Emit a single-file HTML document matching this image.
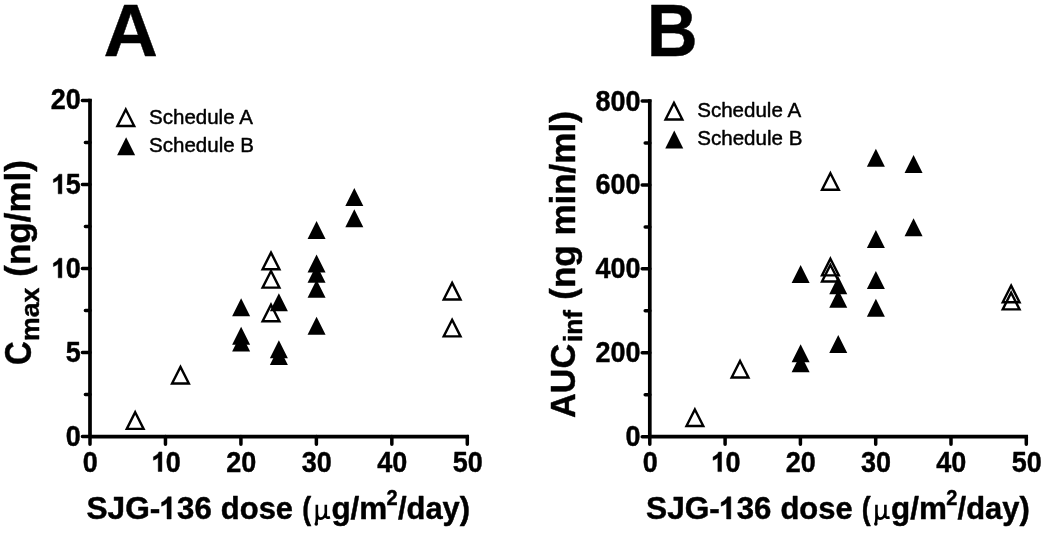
<!DOCTYPE html>
<html><head><meta charset="utf-8"><title>Figure</title>
<style>html,body{margin:0;padding:0;background:#fff}body{width:1050px;height:536px;overflow:hidden}svg{display:block;filter:grayscale(1) blur(.35px)}text{font-family:"Liberation Sans",sans-serif;font-weight:bold;fill:#000;stroke:#000;stroke-width:.45px;stroke-linejoin:round}text.r{font-weight:normal}</style>
</head><body>
<svg width="1050" height="536" viewBox="0 0 1050 536">
<rect width="1050" height="536" fill="#fff"/>
<text transform="translate(103.52 55.6) scale(1.0255 1)" font-size="73.5">A</text>
<text transform="translate(646.74 55.6) scale(0.9591 1)" font-size="73.5">B</text>
<path d="M90 98.75V436.6M90 436.6H469.05" stroke="#000" stroke-width="3.7" fill="none"/>
<path d="M82.4 436.6H90M85.4 394.59H90M82.4 352.58H90M85.4 310.56H90M82.4 268.55H90M85.4 226.54H90M82.4 184.53H90M85.4 142.51H90M82.4 100.5H90M90 436.6V444.2M165.46 436.6V444.2M240.92 436.6V444.2M316.38 436.6V444.2M391.84 436.6V444.2M467.3 436.6V444.2" stroke="#000" stroke-width="3.5" stroke-linecap="round" fill="none"/>
<text transform="translate(65.79 445.9) scale(0.9120 1)" font-size="29.6">0</text>
<text transform="translate(65.79 361.88) scale(0.9120 1)" font-size="29.6">5</text>
<path d="M61.9 277.85L58.19 277.85L58.19 263.73Q56.16 265.65 53.41 266.57L53.41 263.17Q54.86 262.69 56.56 261.36Q58.26 260.01 58.89 258.23L61.9 258.23Z" fill="#000" stroke="#000" stroke-width=".45" stroke-linejoin="round"/>
<text transform="translate(65.79 277.85) scale(0.9120 1)" font-size="29.6">0</text>
<path d="M61.9 193.83L58.19 193.83L58.19 179.71Q56.16 181.63 53.41 182.55L53.41 179.15Q54.86 178.67 56.56 177.33Q58.26 175.99 58.89 174.2L61.9 174.2Z" fill="#000" stroke="#000" stroke-width=".45" stroke-linejoin="round"/>
<text transform="translate(65.79 193.83) scale(0.9120 1)" font-size="29.6">5</text>
<text transform="translate(50.77 109.3) scale(0.9120 1)" font-size="29.6">20</text>
<text transform="translate(82.84 471.5) scale(0.9120 1)" font-size="29.6">0</text>
<path d="M161.92 471.5L158.21 471.5L158.21 457.38Q156.19 459.3 153.43 460.22L153.43 456.82Q154.88 456.34 156.58 455.01Q158.28 453.66 158.91 451.88L161.92 451.88Z" fill="#000" stroke="#000" stroke-width=".45" stroke-linejoin="round"/>
<text transform="translate(165.81 471.5) scale(0.9120 1)" font-size="29.6">0</text>
<text transform="translate(226.26 471.5) scale(0.9120 1)" font-size="29.6">20</text>
<text transform="translate(301.72 471.5) scale(0.9120 1)" font-size="29.6">30</text>
<text transform="translate(377.18 471.5) scale(0.9120 1)" font-size="29.6">40</text>
<text transform="translate(452.64 471.5) scale(0.9120 1)" font-size="29.6">50</text>
<path d="M649.8 99.25V436.7M649.8 436.7H1028.05" stroke="#000" stroke-width="3.7" fill="none"/>
<path d="M642.2 436.7H649.8M645.2 394.74H649.8M642.2 352.77H649.8M645.2 310.81H649.8M642.2 268.85H649.8M645.2 226.89H649.8M642.2 184.92H649.8M645.2 142.96H649.8M642.2 101H649.8M649.8 436.7V444.3M725.1 436.7V444.3M800.4 436.7V444.3M875.7 436.7V444.3M951 436.7V444.3M1026.3 436.7V444.3" stroke="#000" stroke-width="3.5" stroke-linecap="round" fill="none"/>
<text transform="translate(625.59 446) scale(0.9120 1)" font-size="29.6">0</text>
<text transform="translate(595.56 362.07) scale(0.9120 1)" font-size="29.6">200</text>
<text transform="translate(595.56 278.15) scale(0.9120 1)" font-size="29.6">400</text>
<text transform="translate(595.56 194.22) scale(0.9120 1)" font-size="29.6">600</text>
<text transform="translate(595.56 110.7) scale(0.9120 1)" font-size="29.6">800</text>
<text transform="translate(642.64 471.6) scale(0.9120 1)" font-size="29.6">0</text>
<path d="M721.56 471.6L717.85 471.6L717.85 457.48Q715.83 459.4 713.07 460.32L713.07 456.92Q714.52 456.44 716.22 455.11Q717.92 453.76 718.55 451.98L721.56 451.98Z" fill="#000" stroke="#000" stroke-width=".45" stroke-linejoin="round"/>
<text transform="translate(725.45 471.6) scale(0.9120 1)" font-size="29.6">0</text>
<text transform="translate(785.74 471.6) scale(0.9120 1)" font-size="29.6">20</text>
<text transform="translate(861.04 471.6) scale(0.9120 1)" font-size="29.6">30</text>
<text transform="translate(936.34 471.6) scale(0.9120 1)" font-size="29.6">40</text>
<text transform="translate(1011.64 471.6) scale(0.9120 1)" font-size="29.6">50</text>
<path d="M135.18 412.24L143.58 428.84L126.78 428.84Z" fill="none" stroke="#000" stroke-width="2.4" stroke-linejoin="miter"/>
<path d="M180.45 366.86L188.85 383.46L172.05 383.46Z" fill="none" stroke="#000" stroke-width="2.4" stroke-linejoin="miter"/>
<path d="M271 252.59L279.4 269.19L262.6 269.19Z" fill="none" stroke="#000" stroke-width="2.4" stroke-linejoin="miter"/>
<path d="M271 271.07L279.4 287.67L262.6 287.67Z" fill="none" stroke="#000" stroke-width="2.4" stroke-linejoin="miter"/>
<path d="M271 304.68L279.4 321.28L262.6 321.28Z" fill="none" stroke="#000" stroke-width="2.4" stroke-linejoin="miter"/>
<path d="M452.11 282.84L460.51 299.44L443.71 299.44Z" fill="none" stroke="#000" stroke-width="2.4" stroke-linejoin="miter"/>
<path d="M452.11 319.81L460.51 336.41L443.71 336.41Z" fill="none" stroke="#000" stroke-width="2.4" stroke-linejoin="miter"/>
<path d="M241.12 298.3L250.12 316.3L232.12 316.3Z" fill="#000"/>
<path d="M241.12 326.87L250.12 344.87L232.12 344.87Z" fill="#000"/>
<path d="M241.12 333.59L250.12 351.59L232.12 351.59Z" fill="#000"/>
<path d="M278.85 293.26L287.85 311.26L269.85 311.26Z" fill="#000"/>
<path d="M278.85 340.31L287.85 358.31L269.85 358.31Z" fill="#000"/>
<path d="M278.85 347.04L287.85 365.04L269.85 365.04Z" fill="#000"/>
<path d="M316.58 221L325.58 239L307.58 239Z" fill="#000"/>
<path d="M316.58 254.61L325.58 272.61L307.58 272.61Z" fill="#000"/>
<path d="M316.58 264.69L325.58 282.69L307.58 282.69Z" fill="#000"/>
<path d="M316.58 279.82L325.58 297.82L307.58 297.82Z" fill="#000"/>
<path d="M316.58 316.79L325.58 334.79L307.58 334.79Z" fill="#000"/>
<path d="M354.31 187.89L363.31 205.89L345.31 205.89Z" fill="#000"/>
<path d="M354.31 209.24L363.31 227.24L345.31 227.24Z" fill="#000"/>
<path d="M694.88 409.42L703.28 426.02L686.48 426.02Z" fill="none" stroke="#000" stroke-width="2.4" stroke-linejoin="miter"/>
<path d="M740.06 360.95L748.46 377.55L731.66 377.55Z" fill="none" stroke="#000" stroke-width="2.4" stroke-linejoin="miter"/>
<path d="M830.42 173.17L838.82 189.77L822.02 189.77Z" fill="none" stroke="#000" stroke-width="2.4" stroke-linejoin="miter"/>
<path d="M830.42 258.77L838.82 275.37L822.02 275.37Z" fill="none" stroke="#000" stroke-width="2.4" stroke-linejoin="miter"/>
<path d="M830.42 264.94L838.82 281.54L822.02 281.54Z" fill="none" stroke="#000" stroke-width="2.4" stroke-linejoin="miter"/>
<path d="M1011.14 285.63L1019.54 302.23L1002.74 302.23Z" fill="none" stroke="#000" stroke-width="2.4" stroke-linejoin="miter"/>
<path d="M1011.14 292.76L1019.54 309.36L1002.74 309.36Z" fill="none" stroke="#000" stroke-width="2.4" stroke-linejoin="miter"/>
<path d="M800.6 264.99L809.6 282.99L791.6 282.99Z" fill="#000"/>
<path d="M800.6 344.29L809.6 362.29L791.6 362.29Z" fill="#000"/>
<path d="M800.6 354.16L809.6 372.16L791.6 372.16Z" fill="#000"/>
<path d="M838.25 276.32L847.25 294.32L829.25 294.32Z" fill="#000"/>
<path d="M838.25 289.74L847.25 307.74L829.25 307.74Z" fill="#000"/>
<path d="M838.25 335.06L847.25 353.06L829.25 353.06Z" fill="#000"/>
<path d="M875.9 148.75L884.9 166.75L866.9 166.75Z" fill="#000"/>
<path d="M875.9 229.9L884.9 247.9L866.9 247.9Z" fill="#000"/>
<path d="M875.9 270.99L884.9 288.99L866.9 288.99Z" fill="#000"/>
<path d="M875.9 298.68L884.9 316.68L866.9 316.68Z" fill="#000"/>
<path d="M913.55 155.04L922.55 173.04L904.55 173.04Z" fill="#000"/>
<path d="M913.55 218.28L922.55 236.28L904.55 236.28Z" fill="#000"/>
<path d="M125.8 109.44L134.2 126.04L117.4 126.04Z" fill="none" stroke="#000" stroke-width="2.4" stroke-linejoin="miter"/>
<path d="M126.1 137.3L135.1 155.3L117.1 155.3Z" fill="#000"/>
<text class="r" transform="translate(149.03 124.3) scale(0.9818 1)" font-size="20.9">Schedule A</text>
<text class="r" transform="translate(149.03 152) scale(0.9827 1)" font-size="20.9">Schedule B</text>
<path d="M673.95 102.84L682.35 119.44L665.55 119.44Z" fill="none" stroke="#000" stroke-width="2.4" stroke-linejoin="miter"/>
<path d="M674.25 130.5L683.25 148.5L665.25 148.5Z" fill="#000"/>
<text class="r" transform="translate(697.17 117.1) scale(0.9841 1)" font-size="20.9">Schedule A</text>
<text class="r" transform="translate(697.17 145) scale(0.9851 1)" font-size="20.9">Schedule B</text>
<text transform="translate(86.45 519.1) scale(1.0078 1)" font-size="31.4">SJG-</text>
<path d="M171.2 519L167.01 519L167.01 502.97Q164.71 505.15 161.6 506.19L161.6 502.33Q163.24 501.79 165.16 500.27Q167.08 498.75 167.8 496.72L171.2 496.72Z" fill="#000" stroke="#000" stroke-width=".45" stroke-linejoin="round"/>
<text transform="translate(177.1 519.1) scale(0.9925 1)" font-size="31.4">36</text>
<text transform="translate(220.86 519.3) scale(0.9977 1)" font-size="31">dose</text>
<text transform="translate(302.16 519.3) scale(0.8641 1)" font-size="31">(</text>
<g transform="translate(0 0)" fill="none" stroke="#000" stroke-width="2.6" stroke-linejoin="round"><path d="M316.85 504.8V519L316.25 524.2M316.9 512.5C317.1 520.6 323.6 520.6 325.75 513.2M325.8 504.8V515.8Q325.9 518.6 330 517.2"/><circle cx="316.2" cy="524.1" r="1.75" fill="#000" stroke="none"/></g>
<text transform="translate(331.44 519.3) scale(1.0130 1)" font-size="31">g/m</text>
<text transform="translate(386.6 505.4) scale(0.9302 1)" font-size="21.5">2</text>
<text transform="translate(397.99 519.3) scale(0.9965 1)" font-size="31">/day)</text>
<text transform="translate(646.05 519.1) scale(1.0078 1)" font-size="31.4">SJG-</text>
<path d="M730.8 519L726.61 519L726.61 502.97Q724.31 505.15 721.2 506.19L721.2 502.33Q722.84 501.79 724.76 500.27Q726.68 498.75 727.4 496.72L730.8 496.72Z" fill="#000" stroke="#000" stroke-width=".45" stroke-linejoin="round"/>
<text transform="translate(736.7 519.1) scale(0.9925 1)" font-size="31.4">36</text>
<text transform="translate(780.46 519.3) scale(0.9977 1)" font-size="31">dose</text>
<text transform="translate(861.76 519.3) scale(0.8641 1)" font-size="31">(</text>
<g transform="translate(559.6 0)" fill="none" stroke="#000" stroke-width="2.6" stroke-linejoin="round"><path d="M316.85 504.8V519L316.25 524.2M316.9 512.5C317.1 520.6 323.6 520.6 325.75 513.2M325.8 504.8V515.8Q325.9 518.6 330 517.2"/><circle cx="316.2" cy="524.1" r="1.75" fill="#000" stroke="none"/></g>
<text transform="translate(891.04 519.3) scale(1.0130 1)" font-size="31">g/m</text>
<text transform="translate(946.2 505.4) scale(0.9302 1)" font-size="21.5">2</text>
<text transform="translate(957.59 519.3) scale(0.9965 1)" font-size="31">/day)</text>
<text transform="translate(30.6 365.12) rotate(-90) scale(0.8986 1)" font-size="36.7">C</text>
<text transform="translate(38.65 341.03) rotate(-90) scale(1.0256 1)" font-size="26">max</text>
<text transform="translate(30.2 276.65) rotate(-90) scale(1.0103 1)" font-size="34.6">(ng/ml)</text>
<text transform="translate(575 417.95) rotate(-90) scale(0.9711 1)" font-size="35.2">AUC</text>
<text transform="translate(582.3 341.94) rotate(-90) scale(0.9905 1)" font-size="26.5">inf</text>
<text transform="translate(575 299.65) rotate(-90) scale(1.0112 1)" font-size="34.6">(ng min/ml)</text>
</svg>
</body></html>
